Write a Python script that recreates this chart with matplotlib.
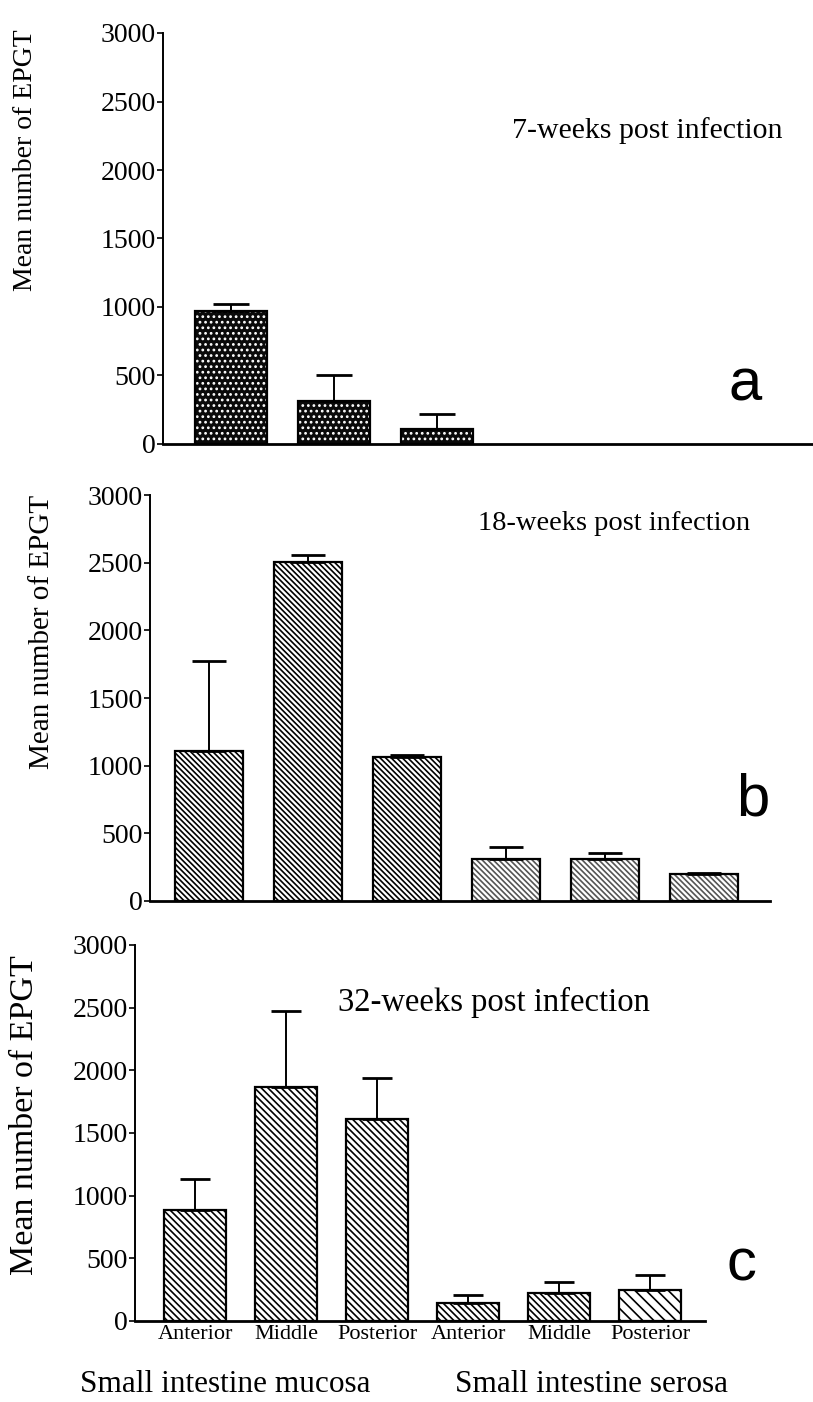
import matplotlib
matplotlib.use("Agg")
import matplotlib.pyplot as plt
import numpy as np

plt.rcParams['font.family'] = ['Liberation Serif', 'DejaVu Serif']
plt.rcParams['hatch.linewidth'] = 1.2

BS = chr(92)  # backslash, for hatch patterns

# ---------------- data ----------------
tick_labels = ["Anterior", "Middle", "Posterior", "Anterior", "Middle", "Posterior"]
group_labels = ["Small intestine mucosa", "Small intestine serosa"]
yticks = [0, 500, 1000, 1500, 2000, 2500, 3000]

titles = ["7-weeks post infection", "18-weeks post infection", "32-weeks post infection"]
panel_letters = ["a", "b", "c"]

mean_7w = [970, 314, 107]
top_7w = [1021, 507, 221]          # mean + error (upper end of bar)

mean_18w = [1110, 2505, 1062, 310, 314, 202]
top_18w = [1772, 2555, 1080, 400, 353, 205]

mean_32w = [889, 1871, 1611, 141, 226, 247]
top_32w = [1134, 2474, 1938, 207, 311, 364]

# ---------------- layout (pixels) ----------------
W, H = 813, 1402
fig = plt.figure(figsize=(W / 100, H / 100), dpi=100)


def add_ax(left, right, top, bottom):
    return fig.add_axes([left / W, 1 - bottom / H, (right - left) / W, (bottom - top) / H])


def style(ax, xlim, fs_tick):
    ax.set_ylim(0, 3000)
    ax.set_xlim(*xlim)
    ax.set_yticks(yticks)
    ax.set_yticklabels([str(v) for v in yticks])
    ax.spines['top'].set_visible(False)
    ax.spines['right'].set_visible(False)
    ax.spines['left'].set_linewidth(1.4)
    ax.spines['bottom'].set_linewidth(2.0)
    ax.tick_params(axis='y', direction='out', length=4, width=1.2, pad=1,
                   labelsize=fs_tick)
    ax.patch.set_alpha(0)


def hatched_bars(ax, x, vals, hatches, hcolors, width):
    for xi, v, h, hc in zip(x, vals, hatches, hcolors):
        ax.bar(xi, v, width=width, color='white', edgecolor=hc, hatch=h,
               linewidth=0, zorder=2)
        ax.bar(xi, v, width=width, fill=False, edgecolor='black',
               linewidth=1.6, zorder=3)


def errs(ax, x, vals, tops, capsize):
    lower = [0] * len(vals)
    upper = [t - v for t, v in zip(tops, vals)]
    ax.errorbar(x, vals, yerr=[lower, upper], fmt='none', ecolor='black',
                elinewidth=1.4, capsize=capsize, capthick=2.0, zorder=4)


# ---------------- panel a ----------------
ax1 = add_ax(163, 813, 33, 444)
x1 = np.arange(len(mean_7w))
ax1.bar(x1, mean_7w, width=0.69, color='#0a0a0a', edgecolor='white',
        hatch='...', linewidth=0, zorder=2)
ax1.bar(x1, mean_7w, width=0.69, fill=False, edgecolor='black',
        linewidth=1.6, zorder=3)
errs(ax1, x1, mean_7w, top_7w, 13)
style(ax1, (-0.66, 5.65), 20)
ax1.set_xticks([])
ax1.set_ylabel("Mean number of EPGT", fontsize=20)
ax1.yaxis.set_label_coords(38 / W, 1 - 160 / H, transform=fig.transFigure)

# ---------------- panel b ----------------
ax2 = add_ax(150, 770, 495, 901)
x2 = np.arange(len(mean_18w))
hatched_bars(ax2, x2, mean_18w, [BS * 6] * 6,
             ['black'] * 3 + ['#555555'] * 3, 0.69)
errs(ax2, x2, mean_18w, top_18w, 12)
style(ax2, (-0.6, 5.67), 20)
ax2.set_xticks([])
ax2.set_ylabel("Mean number of EPGT", fontsize=21)
ax2.yaxis.set_label_coords(55 / W, 1 - 632 / H, transform=fig.transFigure)

# ---------------- panel c ----------------
ax3 = add_ax(135, 705, 945, 1321)
x3 = np.arange(len(mean_32w))
hatched_bars(ax3, x3, mean_32w, [BS * 5] * 5 + [BS * 3],
             ['black'] * 6, 0.68)
errs(ax3, x3, mean_32w, top_32w, 11)
style(ax3, (-0.66, 5.6), 20)
ax3.set_xticks(x3)
ax3.set_xticklabels(tick_labels, fontsize=16)
ax3.tick_params(axis='x', length=0, pad=3)
ax3.set_ylabel("Mean number of EPGT", fontsize=24.5)
ax3.yaxis.set_label_coords(40 / W, 1 - 1115 / H, transform=fig.transFigure)

# ---------------- titles, letters, group labels ----------------
fig.text(512 / W, 1 - 131 / H, titles[0], fontsize=21.5, ha='left', va='center')
fig.text(478 / W, 1 - 523 / H, titles[1], fontsize=20.5, ha='left', va='center')
fig.text(338 / W, 1 - 1002 / H, titles[2], fontsize=23.5, ha='left', va='center')

for (xp, yp), letter in zip([(745, 385), (753, 800), (741, 1265)], panel_letters):
    fig.text(xp / W, 1 - yp / H, letter, fontsize=43, ha='center', va='center',
             family=['Liberation Sans', 'DejaVu Sans'])

fig.text(225 / W, 1 - 1385 / H, group_labels[0], fontsize=22.5, ha='center', va='center')
fig.text(591 / W, 1 - 1385 / H, group_labels[1], fontsize=22.5, ha='center', va='center')

fig.savefig("out.png", dpi=100, facecolor='white')
